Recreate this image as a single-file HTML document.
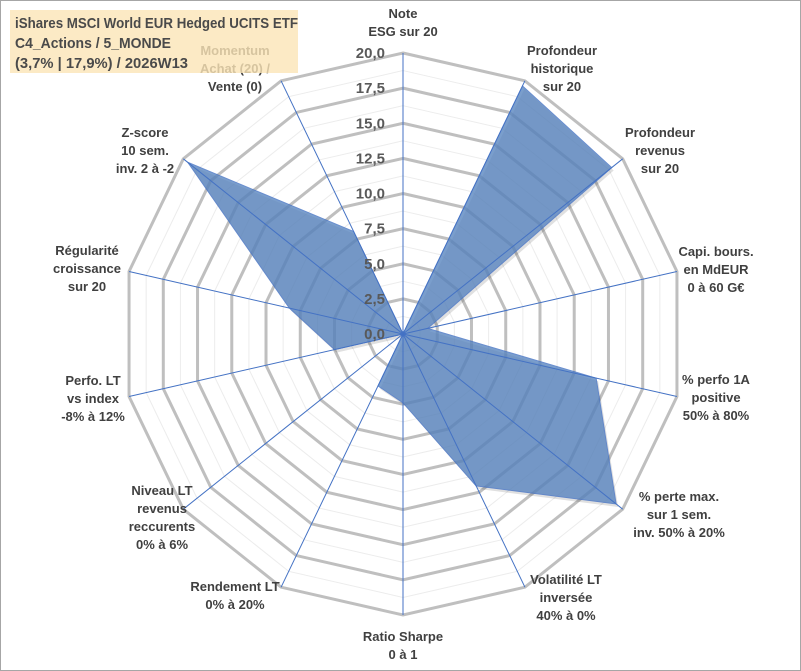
<!DOCTYPE html>
<html><head><meta charset="utf-8"><style>
body{margin:0;background:#fff}
svg{display:block;font-family:"Liberation Sans",sans-serif}
</style></head><body>
<svg id="chart" width="801" height="671" viewBox="0 0 801 671">
<rect x="0.5" y="0.5" width="800" height="670" fill="#fff" stroke="#a6a6a6"/>
<g id="grid"></g>
<g id="series"></g>
<g id="ticks"></g>
<g id="labels"></g>
<rect x="10" y="10" width="288" height="63" fill="#fbe5b6" opacity="0.8"/>
<g font-family="Liberation Sans, sans-serif" font-size="15" font-weight="bold" fill="#4a4a4a">
<text x="15" y="28" textLength="283" lengthAdjust="spacingAndGlyphs">iShares MSCI World EUR Hedged UCITS ETF</text>
<text x="15" y="48" textLength="156" lengthAdjust="spacingAndGlyphs">C4_Actions / 5_MONDE</text>
<text x="15" y="68" textLength="173" lengthAdjust="spacingAndGlyphs">(3,7% | 17,9%) / 2026W13</text>
</g>
</svg>
<script>
const categories=[["Note","ESG sur 20"],["Profondeur","historique","sur 20"],["Profondeur","revenus","sur 20"],["Capi. bours.","en MdEUR","0 à 60 G€"],["% perfo 1A","positive","50% à 80%"],["% perte max.","sur 1 sem.","inv. 50% à 20%"],["Volatilité LT","inversée","40% à 0%"],["Ratio Sharpe","0 à 1"],["Rendement LT","0% à 20%"],["Niveau LT","revenus","reccurents","0% à 6%"],["Perfo. LT","vs index","-8% à 12%"],["Régularité","croissance","sur 20"],["Z-score","10 sem.","inv. 2 à -2"],["Momentum","Achat (20) /","Vente (0)"]];
const values=[0,19.6,19,1.8,14.1,19.4,12,4.9,4.1,0,5,8.3,19.6,8.1];
const tickLabels=["0,0","2,5","5,0","7,5","10,0","12,5","15,0","17,5","20,0"];
const labelPos=[[403,18],[562,55],[660,137],[716,256],[716,384],[679,501],[566,584],[403,641],[235,591],[162,495],[93,385],[87,255],[145,137],[235,55]];
const cx=403,cy=334,R=281,maxV=20,N=categories.length;
const NS="http://www.w3.org/2000/svg";
function ang(i){return -Math.PI/2+i*2*Math.PI/N;}
function pt(i,v){const r=v/maxV*R;return [cx+r*Math.cos(ang(i)),cy+r*Math.sin(ang(i))];}
function mk(t,a,p){const e=document.createElementNS(NS,t);for(const k in a)e.setAttribute(k,a[k]);p.appendChild(e);return e;}
const grid=document.getElementById('grid');
for(let k=1;k<=16;k++){const v=k*1.25;const pts=[];for(let i=0;i<N;i++)pts.push(pt(i,v).join(','));
const major=k%2===0;
const ring=mk('polygon',{points:pts.join(' '),fill:'none',stroke:major?'#bfbfbf':'#ececec','stroke-width':major?3:1},grid);

}
const series=document.getElementById('series');
const sp=values.map((v,i)=>pt(i,v).join(',')).join(' ');
const shadow=mk('polygon',{points:sp,fill:'#000',opacity:0.12,transform:'translate(2,3)'},series);


const area=mk('polygon',{points:sp,fill:'#5a86c0',opacity:0.8,stroke:'#4472c4','stroke-width':1},series);


for(let i=0;i<N;i++){const p=pt(i,maxV);const l=mk('line',{x1:cx,y1:cy,x2:p[0],y2:p[1],stroke:'#4472c4','stroke-width':1},series);

}
const ticks=document.getElementById('ticks');
tickLabels.forEach((t,k)=>{const y=cy-k*2.5/maxV*R;const e=mk('text',{x:385,y:y+5,'text-anchor':'end','font-size':15,'font-weight':'bold',fill:'#595959'},ticks);e.textContent=t;

});
const labels=document.getElementById('labels');
categories.forEach((lines,i)=>{const [x,y]=labelPos[i];const g=mk('text',{'text-anchor':'middle','font-size':13,'font-weight':'bold',fill:'#404040'},labels);


lines.forEach((s,j)=>{const ts=mk('tspan',{x:x,y:y+j*18},g);ts.textContent=s;});});
</script>
</body></html>
